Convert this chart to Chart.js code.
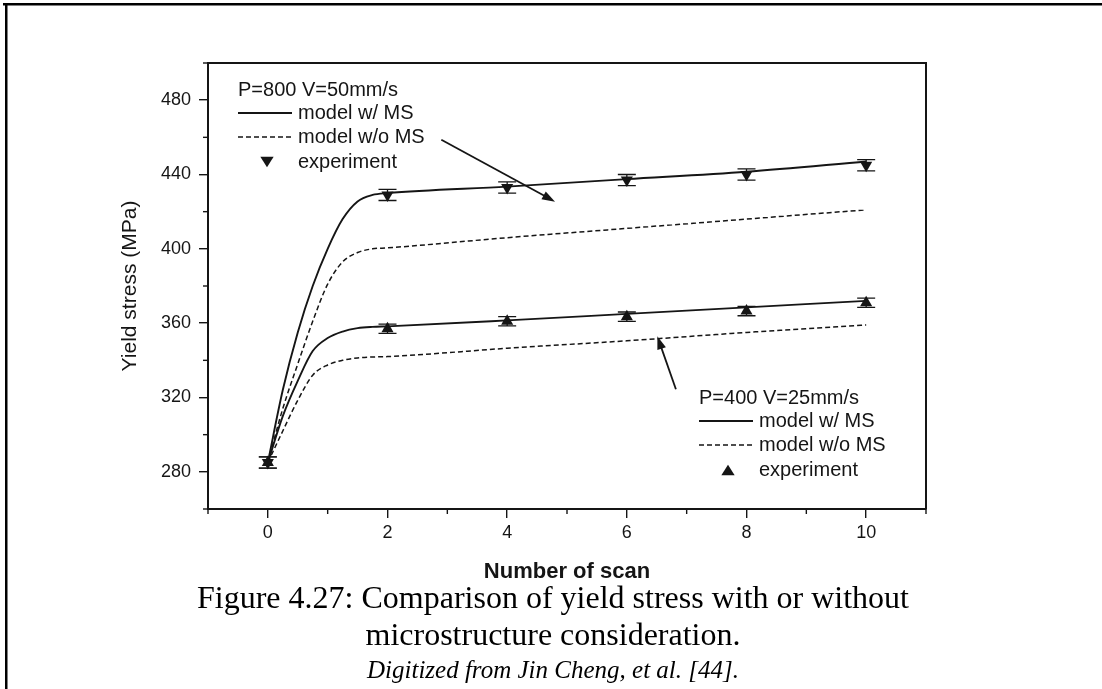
<!DOCTYPE html>
<html>
<head>
<meta charset="utf-8">
<script src="https://cdn.jsdelivr.net/npm/chart.js@4.4.1/dist/chart.umd.min.js"></script>
<style>
  html, body { margin: 0; padding: 0; background: #fff; overflow: hidden; }
  canvas { display: block; }
</style>
</head>
<body>
<canvas id="c" width="1102" height="689"></canvas>
<script>
// ---- data ----
const scanX       = [0, 0.25, 0.5, 0.75, 1, 1.25, 1.5, 1.75, 2, 4, 6, 8, 10];
const hiWithMS    = [285, 324, 355, 380, 400, 416, 425.5, 429, 430, 433.5, 437.5, 441.5, 447];
const hiWithoutMS = [285, 314, 338, 361, 381, 393, 398, 400, 400.5, 406, 411, 416, 421];
const loWithMS    = [285, 310, 329, 345, 352, 355.5, 357.3, 358, 358.3, 361.5, 365, 368.5, 372];
const loWithoutMS = [285, 302, 318.5, 332, 337.5, 340, 341.3, 341.8, 342, 346.5, 350.5, 355, 359];
const expX   = [0, 2, 4, 6, 8, 10];
const hiExp  = [285, 429, 433, 437, 440, 445];
const hiErr  = [3, 3, 3, 3, 3, 3];
const loExp  = [285, 357, 361, 363.5, 366.5, 371];
const loErr  = [3, 2.5, 2.5, 2.5, 2.5, 2.5];
const xMajorTicks = [0, 2, 4, 6, 8, 10];
const xMinorTicks = [-1, 1, 3, 5, 7, 9, 11];
const yMajorTicks = [280, 320, 360, 400, 440, 480];
const yMinorTicks = [260, 300, 340, 380, 420, 460, 500];
const hiLegend = ['P=800 V=50mm/s', 'model w/ MS', 'model w/o MS', 'experiment'];
const loLegend = ['P=400 V=25mm/s', 'model w/ MS', 'model w/o MS', 'experiment'];
const captionLines = ['Figure 4.27: Comparison of yield stress with or without', 'microstructure consideration.'];
const creditLine = 'Digitized from Jin Cheng, et al. [44].';
// arrows [xTail, yTail, xHead, yHead] in data units
const arrowHi = [2.9, 458.7, 4.8, 425.4];
const arrowLo = [6.82, 324.4, 6.51, 352.9];

const INK = '#151515';
const SANS = '"Liberation Sans", Arial, Helvetica, sans-serif';
const SERIF = '"Liberation Serif", "Times New Roman", serif';
const pts = (xs, ys) => xs.map((x, i) => ({ x: x, y: ys[i] }));

function tri(ctx, cx, cy, r, down) {
  const h = r * 0.75, w = r * 0.95;
  ctx.beginPath();
  if (down) { ctx.moveTo(cx - w, cy - h); ctx.lineTo(cx + w, cy - h); ctx.lineTo(cx, cy + h); }
  else { ctx.moveTo(cx - w, cy + h); ctx.lineTo(cx + w, cy + h); ctx.lineTo(cx, cy - h); }
  ctx.closePath(); ctx.fill();
}

const framePlugin = {
  id: 'frame',
  beforeDraw(chart) {
    const ctx = chart.ctx;
    ctx.save();
    ctx.fillStyle = '#fff';
    ctx.fillRect(0, 0, chart.width, chart.height);
    ctx.fillStyle = '#000';
    ctx.fillRect(3, 3, chart.width - 3, 2.5);
    ctx.fillRect(5, 3, 2.5, chart.height - 3);
    ctx.restore();
  },
  afterDatasetsDraw(chart) {
    const ctx = chart.ctx;
    const a = chart.chartArea;
    const xs = chart.scales.x, ys = chart.scales.y;
    ctx.save();
    ctx.strokeStyle = INK; ctx.fillStyle = INK;
    // plot box top and right
    ctx.lineWidth = 2;
    ctx.beginPath();
    ctx.moveTo(a.left, a.top); ctx.lineTo(a.right, a.top); ctx.lineTo(a.right, a.bottom);
    ctx.stroke();
    // minor ticks
    ctx.lineWidth = 1.4;
    xMinorTicks.forEach(v => {
      const p = xs.getPixelForValue(v);
      ctx.beginPath(); ctx.moveTo(p, a.bottom); ctx.lineTo(p, a.bottom + 5); ctx.stroke();
    });
    yMinorTicks.forEach(v => {
      const p = ys.getPixelForValue(v);
      ctx.beginPath(); ctx.moveTo(a.left, p); ctx.lineTo(a.left - 5, p); ctx.stroke();
    });
    // error bars
    ctx.lineWidth = 1.3;
    const eb = (ysArr, errArr) => {
      expX.forEach((x, i) => {
        const px = xs.getPixelForValue(x);
        const p1 = ys.getPixelForValue(ysArr[i] + errArr[i]);
        const p2 = ys.getPixelForValue(ysArr[i] - errArr[i]);
        ctx.beginPath();
        ctx.moveTo(px, p1); ctx.lineTo(px, p2);
        ctx.moveTo(px - 9, p1); ctx.lineTo(px + 9, p1);
        ctx.moveTo(px - 9, p2); ctx.lineTo(px + 9, p2);
        ctx.stroke();
      });
    };
    eb(hiExp, hiErr); eb(loExp, loErr);

    // arrows
    const arrow = (arr) => {
      const x1 = xs.getPixelForValue(arr[0]), y1 = ys.getPixelForValue(arr[1]);
      const x2 = xs.getPixelForValue(arr[2]), y2 = ys.getPixelForValue(arr[3]);
      const ang = Math.atan2(y2 - y1, x2 - x1);
      const c = Math.cos(ang), s = Math.sin(ang);
      ctx.lineWidth = 1.8;
      ctx.beginPath(); ctx.moveTo(x1, y1); ctx.lineTo(x2 - 8 * c, y2 - 8 * s); ctx.stroke();
      ctx.beginPath();
      ctx.moveTo(x2, y2);
      ctx.lineTo(x2 - 13 * c + 4.5 * s, y2 - 13 * s - 4.5 * c);
      ctx.lineTo(x2 - 13 * c - 4.5 * s, y2 - 13 * s + 4.5 * c);
      ctx.closePath(); ctx.fill();
    };
    arrow(arrowHi); arrow(arrowLo);

    // in-plot legends
    const legend = (labels, x0, y0, down) => {
      ctx.font = '20px ' + SANS;
      ctx.textBaseline = 'middle'; ctx.textAlign = 'left';
      ctx.fillText(labels[0], x0, y0);
      ctx.lineWidth = 1.8; ctx.setLineDash([]);
      ctx.beginPath(); ctx.moveTo(x0, y0 + 23); ctx.lineTo(x0 + 54, y0 + 23); ctx.stroke();
      ctx.fillText(labels[1], x0 + 60, y0 + 23);
      ctx.lineWidth = 1.5; ctx.setLineDash([5, 3]);
      ctx.beginPath(); ctx.moveTo(x0, y0 + 47); ctx.lineTo(x0 + 54, y0 + 47); ctx.stroke();
      ctx.setLineDash([]);
      ctx.fillText(labels[2], x0 + 60, y0 + 47);
      tri(ctx, x0 + 29, y0 + 72, 7, down);
      ctx.fillText(labels[3], x0 + 60, y0 + 72);
    };
    legend(hiLegend, 238, 90, true);
    legend(loLegend, 699, 398, false);
    ctx.restore();
  },
  afterDraw(chart) {
    const ctx = chart.ctx;
    ctx.save();
    ctx.fillStyle = '#000';
    ctx.textAlign = 'center'; ctx.textBaseline = 'middle';
    ctx.font = '32px ' + SERIF;
    ctx.fillText(captionLines[0], 553, 600);
    ctx.fillText(captionLines[1], 553, 637);
    ctx.font = 'italic 25px ' + SERIF;
    ctx.fillText(creditLine, 553, 671);
    ctx.restore();
  }
};

const lineDs = (label, data, dashed) => ({
  label, data, showLine: true, borderColor: INK, borderWidth: dashed ? 1.5 : 1.9,
  borderDash: dashed ? [5, 3] : [], pointRadius: 0, cubicInterpolationMode: 'monotone', fill: false
});
const markDs = (label, data, rot) => ({
  label, data, showLine: false, pointStyle: 'triangle', rotation: rot, pointRadius: 7,
  backgroundColor: INK, borderColor: INK, borderWidth: 0
});

new Chart(document.getElementById('c'), {
  type: 'scatter',
  data: {
    datasets: [
      lineDs('800 model w/ MS', pts(scanX, hiWithMS), false),
      lineDs('800 model w/o MS', pts(scanX, hiWithoutMS), true),
      lineDs('400 model w/ MS', pts(scanX, loWithMS), false),
      lineDs('400 model w/o MS', pts(scanX, loWithoutMS), true),
      markDs('800 experiment', pts(expX, hiExp), 180),
      markDs('400 experiment', pts(expX, loExp), 0)
    ]
  },
  options: {
    responsive: false, animation: false, devicePixelRatio: 1,
    layout: { padding: { left: 114, top: 63, right: 176, bottom: 104 } },
    plugins: { legend: { display: false }, tooltip: { enabled: false } },
    scales: {
      x: {
        type: 'linear', min: -1, max: 11,
        afterBuildTicks: (s) => { s.ticks = xMajorTicks.map(v => ({ value: v })); },
        afterFit: (s) => { s.height = 76; },
        grid: { drawOnChartArea: false, tickLength: 9, color: INK, lineWidth: 1.4 },
        border: { display: true, color: INK, width: 2 },
        ticks: { color: INK, font: { family: SANS, size: 18 }, padding: 4, maxRotation: 0 },
        title: { display: true, text: 'Number of scan', color: INK, padding: 0,
          font: { family: SANS, size: 22, weight: 'bold' } }
      },
      y: {
        type: 'linear', min: 260, max: 500,
        afterBuildTicks: (s) => { s.ticks = yMajorTicks.map(v => ({ value: v })); },
        afterFit: (s) => { s.width = 94; },
        grid: { drawOnChartArea: false, tickLength: 9, color: INK, lineWidth: 1.4 },
        border: { display: true, color: INK, width: 2 },
        ticks: { color: INK, font: { family: SANS, size: 18 }, padding: 8 },
        title: { display: true, text: 'Yield stress (MPa)', color: INK, padding: { top: 4, bottom: 0 },
          font: { family: SANS, size: 21 } }
      }
    }
  },
  plugins: [framePlugin]
});
</script>
</body>
</html>
